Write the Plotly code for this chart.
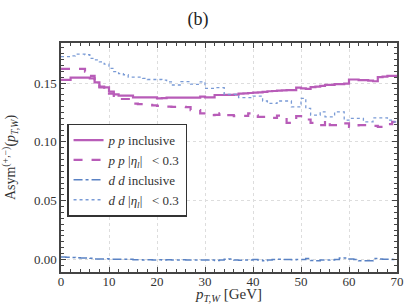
import plotly.graph_objects as go

bin_edges = list(range(0, 71))

pp_incl = [0.1526,0.1526,0.1546,0.1546,0.1546,0.1546,0.154,0.1506,0.1463,0.1463,
           0.1426,0.1404,0.1392,0.1392,0.1392,0.1378,0.1378,0.1378,0.1378,0.1378,
           0.137,0.1372,0.1375,0.1375,0.1375,0.1375,0.1375,0.1375,0.1376,0.1385,
           0.1378,0.1378,0.1398,0.1398,0.14,0.14,0.1402,0.141,0.1412,0.1415,
           0.1418,0.142,0.1425,0.143,0.1432,0.1435,0.1438,0.144,0.144,0.146,
           0.1455,0.145,0.1465,0.147,0.1475,0.1485,0.1485,0.149,0.149,0.1495,
           0.153,0.153,0.1525,0.1525,0.152,0.1515,0.155,0.1555,0.156,0.156]

pp_cut = [0.162,0.162,0.162,0.162,0.162,0.1597,0.156,0.152,0.147,0.144,
          0.141,0.138,0.1364,0.1364,0.1364,0.1325,0.132,0.132,0.1315,0.131,
          0.1305,0.130,0.130,0.1298,0.1298,0.1298,0.1295,0.127,0.127,0.1242,
          0.1242,0.1227,0.123,0.1242,0.1227,0.1227,0.1219,0.1219,0.122,0.1242,
          0.1225,0.1213,0.1213,0.1204,0.1204,0.1222,0.1222,0.1162,0.1162,0.1219,
          0.1219,0.119,0.1162,0.1142,0.1142,0.1185,0.1142,0.1142,0.1157,0.1157,
          0.1128,0.1128,0.1142,0.1142,0.1136,0.1136,0.1128,0.1128,0.115,0.117]

dd_incl = [0.0022,0.002,0.0018,0.0015,0.0014,0.0014,0.001,0.0005,0.0005,0.0006,
           0.0003,0.0003,0.0002,0.0003,0.0002,-0.0002,-0.0002,-0.0003,-0.0002,-0.0003,
           -0.0002,-0.0003,-0.0002,-0.0003,-0.0003,-0.0002,-0.0003,-0.0003,-0.0003,-0.0003,
           -0.0003,-0.0005,-0.0008,-0.0003,0.0003,0.0005,-0.0005,-0.0006,-0.0005,-0.0003,
           0.0,-0.0005,-0.001,-0.0005,0.0,0.0002,0.0,0.0,-0.0002,0.0,
           0.0,0.0008,-0.0008,-0.001,-0.0005,-0.0005,-0.0003,0.0,0.0012,0.0014,
           0.0005,0.0,-0.001,-0.001,-0.001,0.0008,0.0005,0.0003,0.0002,0.0]

dd_cut = [0.1725,0.1725,0.173,0.1745,0.1745,0.174,0.171,0.1696,0.168,0.166,
          0.1625,0.1597,0.158,0.157,0.155,0.155,0.155,0.154,0.153,0.153,
          0.153,0.1525,0.151,0.1483,0.1483,0.1511,0.1511,0.149,0.1489,0.151,
          0.1455,0.1455,0.146,0.146,0.1404,0.1404,0.1404,0.1375,0.1375,0.1375,
          0.1389,0.1389,0.1347,0.1327,0.1327,0.1347,0.1347,0.1347,0.1298,0.1298,
          0.137,0.1284,0.1227,0.1227,0.1255,0.1213,0.1213,0.1255,0.1255,0.1185,
          0.120,0.120,0.120,0.117,0.117,0.1204,0.1204,0.1204,0.1185,0.117]

x_ticks = [0, 10, 20, 30, 40, 50, 60, 70]
y_ticks = [0.00, 0.05, 0.10, 0.15]
y_tick_labels = ["0.00", "0.05", "0.10", "0.15"]

PINK = "#b85cb8"
BLUE = "#5a82c4"
BLUE2 = "#7a9bd6"

def steps(vals):
    return vals + [vals[-1]]

series = [
    ("<i>p p</i> inclusive", pp_incl, dict(color=PINK, width=2.2, dash="solid")),
    ("<i>p p</i> |<i>η<sub>l</sub></i>|   &lt; 0.3", pp_cut, dict(color=PINK, width=2.2, dash="dash")),
    ("<i>d d</i> inclusive", dd_incl, dict(color=BLUE, width=1.5, dash="dashdot")),
    ("<i>d d</i> |<i>η<sub>l</sub></i>|   &lt; 0.3", dd_cut, dict(color=BLUE2, width=1.3, dash="dot")),
]

fig = go.Figure()
for name, vals, line in series:
    fig.add_trace(go.Scatter(x=bin_edges, y=steps(vals), mode="lines",
                             line=dict(shape="hv", **line), name=name))

FONT = "Liberation Serif, DejaVu Serif, serif"
axis_common = dict(
    showline=True, linecolor="#444", linewidth=1.5, mirror="allticks",
    ticks="inside", ticklen=5, tickcolor="#444", tickwidth=1,
    showgrid=True, gridcolor="#dddddd", griddash="dot", gridwidth=1,
    zeroline=False, automargin=False,
    tickfont=dict(family=FONT, size=13, color="#333"),
)

fig.update_xaxes(range=[0, 70], tickvals=x_ticks, ticklabelstandoff=-3,
                 minor=dict(ticks="inside", ticklen=3, dtick=2, tick0=0, tickcolor="#444", showgrid=False),
                 title=dict(text="<i>p<sub>T,W</sub></i> [GeV]", font=dict(family=FONT, size=15, color="#333")),
                 **axis_common)
fig.update_yaxes(range=[-0.0106, 0.184], tickvals=y_ticks, ticktext=y_tick_labels,
                 minor=dict(ticks="inside", ticklen=3, dtick=0.005, tick0=0, tickcolor="#444", showgrid=False),
                 title=dict(text="Asym<sup>(+,−)</sup>(<i>p<sub>T,W</sub></i>)", font=dict(family=FONT, size=14, color="#333")),
                 **axis_common)

fig.update_layout(
    width=405, height=304,
    margin=dict(l=61, r=8, t=43, b=32, autoexpand=False),
    paper_bgcolor="white", plot_bgcolor="white",
    title=dict(text="(b)", x=0.489, xanchor="center", y=0.94, yanchor="middle",
               font=dict(family=FONT, size=18, color="#222")),
    showlegend=True,
    legend=dict(x=0.018, y=0.648, xanchor="left", yanchor="top",
                bgcolor="white", bordercolor="#333", borderwidth=1.5,
                font=dict(family=FONT, size=13, color="#333"),
                tracegroupgap=0, itemwidth=30),
)

fig.write_html("out.html", config={"displayModeBar": False},
               post_script="document.body.style.margin='0';document.body.style.padding='0';")
